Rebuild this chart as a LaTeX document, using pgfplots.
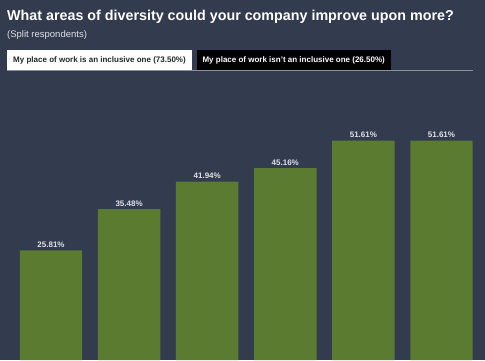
\documentclass[border=0pt]{standalone}
\usepackage{pgfplots}
\pgfplotsset{compat=1.18}
\usepackage{fontspec}
\setmainfont{Liberation Sans}
\definecolor{bg}{HTML}{333C4E}
\definecolor{barc}{HTML}{5A7B30}
\definecolor{linec}{HTML}{8A919C}
\definecolor{subc}{HTML}{DDE0E5}
\begin{document}
\begin{tikzpicture}[x=1pt,y=1pt]
\fill[bg] (0,0) rectangle (485,360);
\begin{axis}[at={(0,0)}, anchor=south west, scale only axis,
  width=485pt, height=360pt,
  xmin=-0.653, xmax=5.557, ymin=0, ymax=84.7,
  hide axis, clip=false,
  ybar, bar width=0.8, bar shift=0pt,
  /pgf/number format/assume math mode=true,
  nodes near coords={\pgfmathprintnumber[fixed,precision=2,fixed zerofill,assume math mode=true]{\pgfplotspointmeta}\%},
  every node near coord/.append style={font=\bfseries\fontsize{8}{9}\selectfont, text=subc, anchor=south, inner sep=1pt, yshift=1.5pt},
]
\addplot[fill=barc, draw=none] coordinates {(0,25.81) (1,35.48) (2,41.94) (3,45.16) (4,51.61) (5,51.61)};
\end{axis}
\node[anchor=west, text=white, font=\bfseries\fontsize{14.3}{17}\selectfont, inner sep=0pt] at (7,343) {What areas of diversity could your company improve upon more?};
\node[anchor=west, text=subc, font=\fontsize{9.5}{11}\selectfont, inner sep=0pt] at (7,325) {(Split respondents)};
\fill[white] (7,290) rectangle (192,310);
\node[text=black!85, font=\bfseries\fontsize{8}{9}\selectfont, inner sep=0pt] at (99.5,300) {My place of work is an inclusive one (73.50\%)};
\fill[black] (197,290) rectangle (390.5,310);
\node[text=white, font=\bfseries\fontsize{8}{9}\selectfont, inner sep=0pt] at (293.7,300) {My place of work isn't an inclusive one (26.50\%)};
\draw[linec, line width=0.8pt] (7,289.6) -- (473,289.6);
\end{tikzpicture}
\end{document}
